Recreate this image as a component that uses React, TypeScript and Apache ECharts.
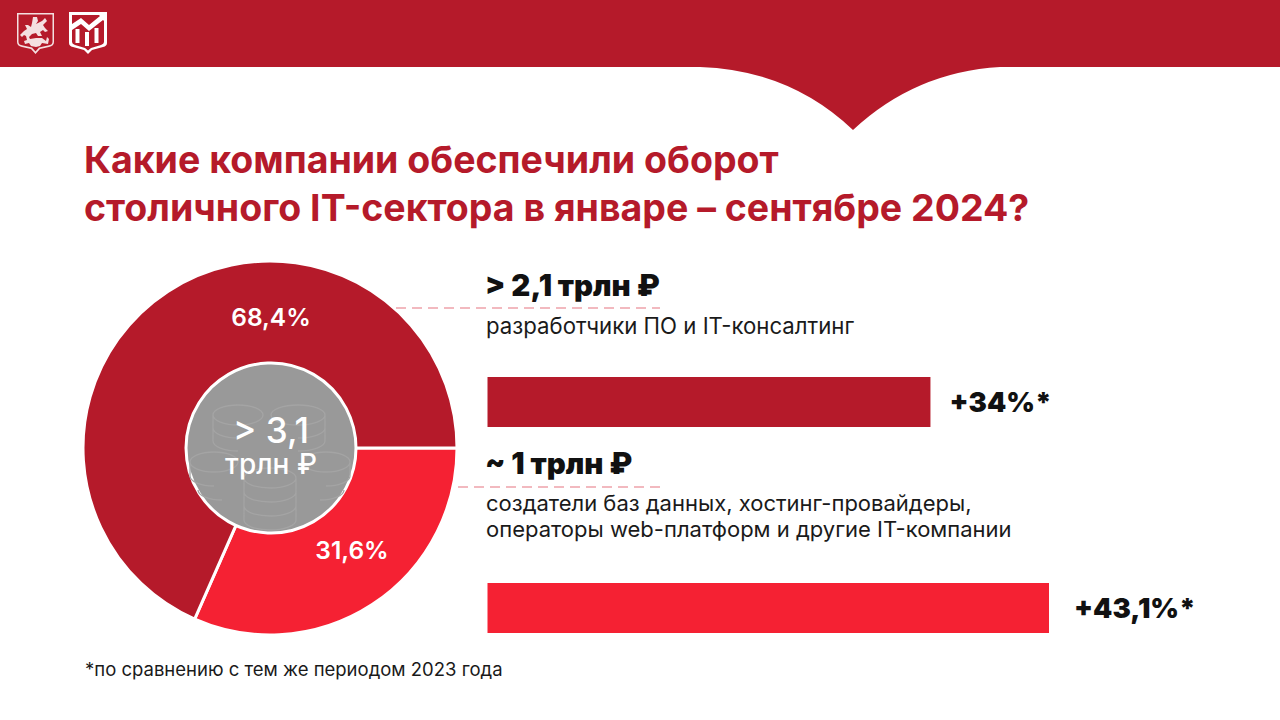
import React, { useEffect, useRef } from "react";
import * as echarts from "echarts";

const titleText = "Какие компании обеспечили оборот\nстоличного IT-сектора в январе – сентябре 2024?";
const pieNames = ["Создатели баз данных и другие IT-компании", "Разработчики ПО и IT-консалтинг"];
const pieShares = [31.6, 68.4];
const barCategories = ["разработчики ПО и IT-консалтинг", "создатели баз данных и другие IT-компании"];
const barGrowth = [34, 43.1];
const totalLines = ["> 3,1", "трлн ₽"];
const firstHead = "> 2,1 трлн ₽";
const firstSub = "разработчики ПО и IT-консалтинг";
const secondHead = "~ 1 трлн ₽";
const secondSub = "создатели баз данных, хостинг-провайдеры,\nоператоры web-платформ и другие IT-компании";
const footnote = "*по сравнению с тем же периодом 2023 года";

const DARK = "#B51A2A";
const BRIGHT = "#F52133";
const FONT = "Inter, 'Noto Sans', sans-serif";

const fmt = (v: number) => String(v).replace(".", ",");

echarts.graphic.registerShape("notch", echarts.graphic.extendPath(
  "M690 66 L700 67 Q790 70 853 130 Q915 72 1000 67 L1010 66 Z", {}));
echarts.graphic.registerShape("shieldA", echarts.graphic.extendPath(
  "M17 13 H54 V42 Q54 46 49 47 L40 49 L35.5 54 L31 49 L22 47 Q17 46 17 42 Z M18.5 14.5 V42 Q18.5 45 23 45.5 L32 47.5 L35.5 51.5 L39 47.5 L48 45.5 Q52.5 45 52.5 42 V14.5 Z", {}));
echarts.graphic.registerShape("george", echarts.graphic.extendPath(
  "M33 17 L37 17 L38 21 L36 24 L42 21 L45 18 L47 21 L43 25 L45 28 L48 31 L45 32 L43 30 L40 32 L42 36 L38 36 L36 33 L32 34 L29 37 L30 39 L27 40 L26 36 L24 35 L22 37 L20 35 L24 31 L27 29 L25 25 L28 25 L31 27 L32 23 Z" +
  " M24 41 L30 39 L36 38 L42 38 L46 41 L47 37 L49 39 L48 44 L42 43 L40 46 L36 47 L31 46 L29 43 L25 44 Z", {}));
echarts.graphic.registerShape("shieldB", echarts.graphic.extendPath(
  "M69 12 H107 V43 Q107 46 103 47 L92 50 L88 54 L84 50 L73 47 Q69 46 69 43 Z M72 15 V42 Q72 44 75 45 L85 48 L88 50.5 L91 48 L101 45 Q104 44 104 42 V15 Z", {}));
echarts.graphic.registerShape("trend", echarts.graphic.extendPath(
  "M72 24 L81 18 L89 25 L100 16 L97 13 H106 V23 L103 20 L89 31 L81 24 L72 30 Z M75.5 29 H79.5 V43 H75.5 Z M85 32 H89 V46 H85 Z M94.5 28 H98.5 V43 H94.5 Z", {}));
echarts.graphic.registerShape("coins", echarts.graphic.extendPath(
  "M213 415 A25 10 0 1 1 263 415 A25 10 0 1 1 213 415 M213 415 V441 M213 428 A25 10 0 0 0 238 438 M213 441 A25 10 0 0 0 238 451" +
  " M271 415 A27 10 0 1 1 325 415 A27 10 0 1 1 271 415 M325 415 V441 M325 428 A27 10 0 0 1 298 438 M325 441 A27 10 0 0 1 298 451" +
  " M190 462 A24 10 0 1 1 238 462 A24 10 0 1 1 190 462 M190 462 V476 M190 476 A24 10 0 0 0 214 486 M198 490 A24 10 0 0 0 222 500" +
  " M302 462 A24 10 0 1 1 350 462 A24 10 0 1 1 302 462 M350 462 V476 M350 476 A24 10 0 0 1 326 486 M344 490 A24 10 0 0 1 320 500" +
  " M244 478 A26 10 0 1 1 296 478 A26 10 0 1 1 244 478 M244 478 V520 M296 478 V520 M244 492 A26 10 0 0 0 296 492 M244 506 A26 10 0 0 0 296 506 M244 520 A26 10 0 0 0 296 520", {}));

export default function App() {
  const ref = useRef<HTMLDivElement>(null);
  useEffect(() => {
    document.body.style.margin = "0";
    const chart = echarts.init(ref.current!, null, { renderer: "svg" });
    chart.setOption({
      animation: false,
      backgroundColor: "#ffffff",
      title: {
        text: titleText,
        left: 79,
        top: 130,
        textStyle: { fontFamily: FONT, fontSize: 37.5, fontWeight: 700, color: DARK, lineHeight: 48 },
      },
      grid: { left: 487.5, width: 561.5, top: 299, height: 412 },
      xAxis: { type: "value", min: 0, max: 43.1, show: false },
      yAxis: { type: "category", data: barCategories, inverse: true, show: false },
      series: [
        {
          type: "pie",
          center: [270, 448],
          radius: [0, 187],
          startAngle: 0,
          clockwise: true,
          silent: true,
          itemStyle: { borderColor: "#ffffff", borderWidth: 3 },
          data: pieShares.map((value, i) => ({
            name: pieNames[i],
            value,
            itemStyle: { color: i === 0 ? BRIGHT : DARK },
          })),
          label: {
            show: true,
            position: "inside",
            formatter: (p: any) => `${fmt(p.value)}%`,
            color: "#ffffff",
            fontFamily: FONT,
            fontSize: 24.5,
            fontWeight: 600,
          },
          labelLine: { show: false },
          labelLayout: (p: any) =>
            p.dataIndex === 0
              ? { x: 352, y: 550, align: "center", verticalAlign: "middle" }
              : { x: 271, y: 317, align: "center", verticalAlign: "middle" },
        },
        {
          type: "bar",
          barWidth: 50,
          silent: true,
          data: barGrowth.map((value, i) => ({
            value,
            itemStyle: { color: i === 0 ? DARK : BRIGHT },
            label: { distance: i === 0 ? 19 : 25 },
          })),
          label: {
            show: true,
            position: "right",
            formatter: (p: any) => `+${fmt(p.value)}%*`,
            color: "#111111",
            fontFamily: FONT,
            fontSize: 27.5,
            fontWeight: 900,
          },
        },
      ],
      graphic: [
        { type: "rect", z: 0, shape: { x: 0, y: 0, width: 1280, height: 67 }, style: { fill: DARK } },
        { type: "notch", z: 0, style: { fill: DARK } },
        { type: "shieldA", z: 1, style: { fill: "#f4dfe0" } },
        { type: "george", z: 1, style: { fill: "#f4dfe0" } },
        { type: "shieldB", z: 1, style: { fill: "#ffffff" } },
        { type: "trend", z: 1, style: { fill: "#ffffff" } },
        { type: "circle", z: 10, shape: { cx: 271, cy: 448, r: 85 }, style: { fill: "#999999", stroke: "#ffffff", lineWidth: 3 } },
        { type: "coins", z: 11, style: { fill: "none", stroke: "#a4a4a4", lineWidth: 1.3 } },
        { type: "text", z: 12, x: 271, y: 430, style: { text: totalLines[0], fill: "#ffffff", font: `500 35px ${FONT}`, align: "center", verticalAlign: "middle" } },
        { type: "text", z: 12, x: 271, y: 464, style: { text: totalLines[1], fill: "#ffffff", font: `500 28px ${FONT}`, align: "center", verticalAlign: "middle" } },
        { type: "line", z: 3, shape: { x1: 396, y1: 308, x2: 660, y2: 308 }, style: { stroke: "#f2b9bf", lineWidth: 2, lineDash: [10, 6] } },
        { type: "line", z: 3, shape: { x1: 458, y1: 487, x2: 660, y2: 487 }, style: { stroke: "#f2b9bf", lineWidth: 2, lineDash: [10, 6] } },
        { type: "text", z: 5, x: 485, y: 285, style: { text: firstHead, fill: "#111111", font: `900 29.5px ${FONT}`, verticalAlign: "middle" } },
        { type: "text", z: 5, x: 486, y: 325, style: { text: firstSub, fill: "#1a1a1a", font: `400 22.2px ${FONT}`, verticalAlign: "middle" } },
        { type: "text", z: 5, x: 485, y: 463, style: { text: secondHead, fill: "#111111", font: `900 29.5px ${FONT}`, verticalAlign: "middle" } },
        { type: "text", z: 5, x: 486, y: 516, style: { text: secondSub, fill: "#1a1a1a", font: `400 22px ${FONT}`, lineHeight: 26, verticalAlign: "middle" } },
        { type: "text", z: 5, x: 85, y: 669, style: { text: footnote, fill: "#1a1a1a", font: `400 18.5px ${FONT}`, verticalAlign: "middle" } },
      ],
    });
    return () => chart.dispose();
  }, []);
  return <div ref={ref} style={{ position: "absolute", left: 0, top: 0, width: 1280, height: 720 }} />;
}
